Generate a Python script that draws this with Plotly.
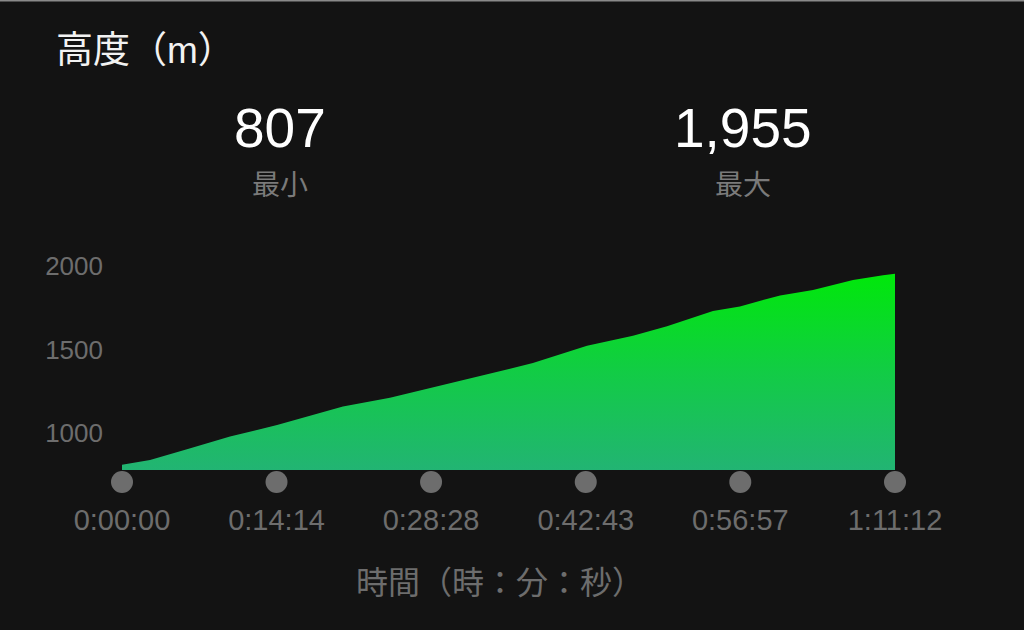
import plotly.graph_objects as go

# 経過時間（秒）と高度（m）
time_s = [0, 155, 359, 597, 857, 1221, 1481, 1702, 2050, 2271, 2570, 2824,
          3012, 3156, 3266, 3415, 3598, 3637, 3819, 4040, 4206, 4272]
altitude = [807, 835, 900, 976, 1046, 1157, 1209, 1267, 1358, 1418, 1522, 1582,
            1639, 1691, 1731, 1759, 1811, 1825, 1857, 1917, 1946, 1955]

tick_vals = [0, 854, 1708, 2563, 3417, 4272]
tick_text = ['0:00:00', '0:14:14', '0:28:28', '0:42:43', '0:56:57', '1:11:12']
y_ticks = [1000, 1500, 2000]

summary_vals = ['807', '1,955']
summary_labels = ['最小', '最大']

BG = '#131313'
GRAY = '#6d6d6d'
FONT = 'Liberation Sans, Noto Sans CJK JP, sans-serif'

y_lo, y_hi = 775, 2050
plot_top, axis_bottom, plot_bottom = 258, 470, 500   # px
L, R = 122, 895
H = plot_bottom - plot_top
split = (plot_bottom - axis_bottom) / H

fig = go.Figure()
fig.add_trace(go.Scatter(
    x=time_s, y=altitude, mode='lines', line=dict(width=0, color='#00e50c'),
    fill='tozeroy',
    fillgradient=dict(type='vertical', start=y_lo, stop=max(altitude),
                      colorscale=[[0, '#22b473'], [0.5, '#12cc45'], [1, '#00e80a']]),
    hoverinfo='skip', showlegend=False))
# 目盛りの丸（下の細い軸に）
fig.add_trace(go.Scatter(
    x=tick_vals, y=[0.6] * len(tick_vals), yaxis='y2', mode='markers',
    marker=dict(size=22, color=GRAY), cliponaxis=False,
    hoverinfo='skip', showlegend=False))

fig.update_layout(
    width=1024, height=630,
    paper_bgcolor=BG, plot_bgcolor=BG,
    margin=dict(l=L, r=1024 - R, t=plot_top, b=630 - plot_bottom),
    font=dict(family=FONT, color=GRAY),
    xaxis=dict(range=[0, 4272], tickvals=tick_vals, ticktext=tick_text,
               showgrid=False, zeroline=False, showline=False,
               ticks='', ticklabelstandoff=30,
               tickfont=dict(size=29, color=GRAY)),
    yaxis=dict(domain=[split, 1], range=[y_lo, y_hi], tickvals=y_ticks,
               showgrid=False, zeroline=False, showline=False,
               ticks='', ticklabelstandoff=18,
               tickfont=dict(size=26, color=GRAY)),
    yaxis2=dict(domain=[0, split], range=[0, 1], visible=False),
)

# 上端の細い枠線
top = 1 + plot_top / H
fig.add_shape(type='line', xref='paper', yref='paper',
              x0=-L / (R - L), x1=(1024 - L) / (R - L), y0=top, y1=top,
              line=dict(color='#8a8a8a', width=3))

ann = [
    dict(text='高度（m）', x=54, y=50, font=dict(size=37, color='#f2f2f2')),
    dict(text='時間（時：分：秒）', x=500, y=583, font=dict(size=32, color=GRAY)),
]
for cx, v, lab in zip([280, 743], summary_vals, summary_labels):
    ann.append(dict(text=v, x=cx, y=128, font=dict(size=55, color='#ffffff')))
    ann.append(dict(text=lab, x=cx, y=185, font=dict(size=28, color='#7a7a7a')))

for a in ann:
    px_x, px_y = a.pop('x'), a.pop('y')
    xanchor = 'left' if a['text'].startswith('高度') else 'center'
    fig.add_annotation(
        xref='paper', yref='paper',
        x=(px_x - L) / (R - L), y=(plot_bottom - px_y) / H,
        xanchor=xanchor, yanchor='middle', showarrow=False, **a)

fig.write_html('out.html', config={'displayModeBar': False},
               post_script="document.body.style.margin='0';"
                           "document.body.style.background='%s';" % BG)
